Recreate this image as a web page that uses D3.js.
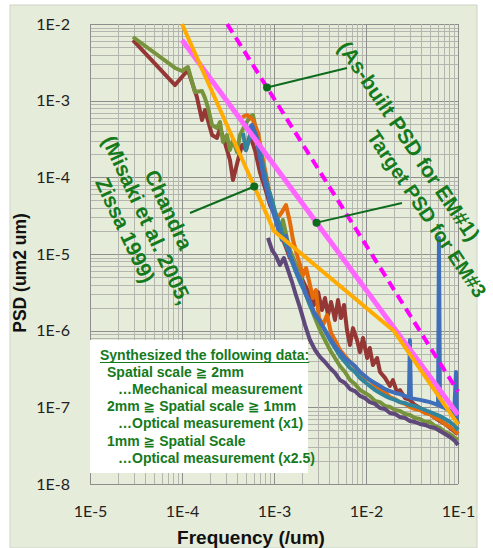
<!DOCTYPE html>
<html>
<head>
<meta charset="utf-8">
<script src="https://cdn.jsdelivr.net/npm/d3@7"></script>
<style>
  html, body { margin: 0; padding: 0; background: #ffffff; }
  svg { display: block; }
</style>
</head>
<body>
<svg id="chart" width="493" height="548"></svg>
<script>
// ---- axes -------------------------------------------------------------
const xTickValues = [1e-5, 1e-4, 1e-3, 1e-2, 1e-1];
const xTickLabels = ["1E-5", "1E-4", "1E-3", "1E-2", "1E-1"];
const yTickValues = [1e-2, 1e-3, 1e-4, 1e-5, 1e-6, 1e-7, 1e-8];
const yTickLabels = ["1E-2", "1E-3", "1E-4", "1E-5", "1E-6", "1E-7", "1E-8"];

// ---- measured PSD series: [frequency (/um), PSD (um2 um)] -------------
const seriesRed = [
  [2.93e-5,6.18e-3],[8.4e-5,1.60e-3],[1.16e-4,2.51e-3],[1.45e-4,1.12e-3],[1.65e-4,5.6e-4],
  [1.78e-4,7.55e-4],[2.12e-4,3.56e-4],[2.40e-4,3.26e-4],[2.59e-4,4.40e-4],[2.93e-4,2.81e-4],
  [3.32e-4,1.68e-4],[3.58e-4,9.23e-5],[4.06e-4,1.68e-4],[4.49e-4,2.64e-4],[4.96e-4,2.27e-4],
  [5.48e-4,3.56e-4],[6.21e-4,2.27e-4],[7.04e-4,1.16e-4],[7.98e-4,7.26e-5],[9.05e-4,4.36e-5],
  [1.03e-3,3.23e-5],[1.16e-3,1.94e-5],[1.32e-3,1.31e-5],[1.49e-3,8.87e-6],[1.69e-3,7.19e-6],
  [1.92e-3,5.32e-6],[2.17e-3,3.94e-6],[2.46e-3,2.92e-6],[2.72e-3,2.16e-6],[3.01e-3,3.19e-6],
  [3.32e-3,1.86e-6],[3.58e-3,2.67e-6],[3.86e-3,1.60e-6],[4.17e-3,2.37e-6],[4.6e-3,1.38e-6],
  [4.96e-3,2.51e-6],[5.35e-3,1.46e-6],[5.77e-3,2.16e-6],[6.21e-3,1.02e-6],[6.7e-3,6.50e-7],
  [7.22e-3,1.08e-6],[7.98e-3,7.55e-7],[8.6e-3,5.27e-7],[9.28e-3,8.02e-7],[1.03e-2,4.40e-7],
  [1.1e-2,5.94e-7],[1.19e-2,3.56e-7],[1.32e-2,4.40e-7],[1.42e-2,2.89e-7],[1.61e-2,2.42e-7],
  [1.82e-2,1.90e-7],[1.96e-2,2.27e-7],[2.17e-2,1.58e-7],[2.34e-2,1.68e-7],[2.66e-2,1.32e-7],
  [3.0e-2,1.25e-7],[3.41e-2,1.07e-7],[3.86e-2,9.8e-8],[4.38e-2,8.69e-8],[4.96e-2,8.18e-8],
  [5.62e-2,7.26e-8],[6.37e-2,6.64e-8],[7.23e-2,6.07e-8],[8.19e-2,5.38e-8],[9.28e-2,4.77e-8],
  [1.0e-1,4.49e-8]
];
const seriesOlive = [
  [2.93e-5,6.77e-3],[8.4e-5,2.67e-3],[1.0e-4,2.44e-3],[1.16e-4,2.75e-3],[1.38e-4,1.30e-3],
  [1.65e-4,1.34e-3],[1.78e-4,1.08e-3],[1.92e-4,8.02e-4],[2.12e-4,4.82e-4],[2.40e-4,4.40e-4],
  [2.59e-4,5.27e-4],[2.79e-4,2.89e-4],[3.08e-4,3.56e-4],[3.32e-4,2.27e-4],[3.58e-4,3.07e-4],
  [3.96e-4,2.14e-4],[4.27e-4,3.56e-4],[4.84e-4,4.82e-4],[5.48e-4,6.12e-4],[5.91e-4,6.50e-4],
  [6.53e-4,3.56e-4],[7.04e-4,2.27e-4],[7.59e-4,1.32e-4],[8.39e-4,8.7e-5],[9.05e-4,5.89e-5],
  [9.75e-4,4.36e-5],[1.05e-3,2.95e-5],[1.16e-3,2.06e-5],[1.25e-3,2.78e-5],[1.38e-3,1.62e-5],
  [1.49e-3,1.13e-5],[1.69e-3,7.87e-6],[1.92e-3,5.32e-6],[2.17e-3,3.19e-6],[2.46e-3,2.16e-6],
  [2.79e-3,1.46e-6],[3.16e-3,1.02e-6],[3.58e-3,7.55e-7],[4.06e-3,5.6e-7],[4.6e-3,4.40e-7],
  [5.21e-3,3.46e-7],[5.91e-3,2.89e-7],[6.7e-3,2.27e-7],[7.59e-3,2.01e-7],[8.6e-3,1.68e-7],
  [9.75e-3,1.54e-7],[1.1e-2,1.41e-7],[1.25e-2,1.21e-7],[1.42e-2,1.17e-7],[1.61e-2,1.04e-7],
  [1.82e-2,1.01e-7],[2.07e-2,9.23e-8],[2.34e-2,8.96e-8],[2.66e-2,8.18e-8],[3.0e-2,7.94e-8],
  [3.41e-2,7.26e-8],[3.86e-2,7.05e-8],[4.38e-2,6.44e-8],[4.96e-2,6.44e-8],[5.62e-2,5.71e-8],
  [6.37e-2,5.38e-8],[7.23e-2,4.77e-8],[8.19e-2,4.49e-8],[9.28e-2,3.98e-8],[1.0e-1,3.75e-8]
];
const seriesPurple = [
  [8.60e-4,1.62e-5],[9.51e-4,1.13e-5],[1.05e-3,9.42e-6],[1.16e-3,7.19e-6],[1.28e-3,8.87e-6],
  [1.42e-3,6.18e-6],[1.57e-3,4.31e-6],[1.73e-3,2.92e-6],[1.92e-3,1.98e-6],[2.17e-3,1.19e-6],
  [2.46e-3,7.55e-7],[2.79e-3,5.6e-7],[3.16e-3,4.54e-7],[3.58e-3,3.90e-7],[4.06e-3,3.26e-7],
  [4.6e-3,2.81e-7],[5.21e-3,2.27e-7],[5.91e-3,2.08e-7],[6.7e-3,1.73e-7],[7.59e-3,1.63e-7],
  [8.6e-3,1.41e-7],[9.75e-3,1.32e-7],[1.1e-2,1.17e-7],[1.25e-2,1.11e-7],[1.42e-2,9.8e-8],
  [1.61e-2,9.5e-8],[1.82e-2,8.43e-8],[2.07e-2,8.18e-8],[2.34e-2,7.47e-8],[2.66e-2,7.26e-8],
  [3.0e-2,6.64e-8],[3.41e-2,6.44e-8],[3.86e-2,6.07e-8],[4.38e-2,5.89e-8],[4.96e-2,5.54e-8],
  [5.62e-2,5.38e-8],[6.37e-2,4.91e-8],[7.23e-2,4.49e-8],[8.19e-2,4.10e-8],[9.28e-2,3.64e-8],
  [1.0e-1,3.23e-8]
];
const seriesOrange = [
  [4.49e-4,6.12e-4],[5.09e-4,6.50e-4],[5.91e-4,5.60e-4],[6.70e-4,3.79e-4],[7.59e-4,1.68e-4],
  [8.39e-4,9.23e-5],[9.05e-4,5.54e-5],[1.0e-3,3.75e-5],[1.10e-3,2.95e-5],[1.22e-3,3.53e-5],
  [1.35e-3,4.36e-5],[1.49e-3,2.61e-5],[1.61e-3,1.52e-5],[1.82e-3,8.87e-6],[2.07e-3,5.32e-6],
  [2.23e-3,6.57e-6],[2.46e-3,3.94e-6],[2.65e-3,2.67e-6],[2.86e-3,3.39e-6],[3.08e-3,1.46e-6],
  [3.41e-3,1.19e-6],[3.77e-3,1.60e-6],[4.17e-3,9.33e-7],[4.6e-3,7.55e-7],[5.21e-3,5.6e-7],
  [5.91e-3,4.68e-7],[6.7e-3,3.90e-7],[7.59e-3,3.36e-7],[8.6e-3,2.89e-7],[9.75e-3,2.42e-7],
  [1.1e-2,2.27e-7],[1.25e-2,1.90e-7],[1.42e-2,1.73e-7],[1.61e-2,1.58e-7],[1.82e-2,1.36e-7],
  [2.07e-2,1.28e-7],[2.34e-2,1.17e-7],[2.66e-2,1.11e-7],[3.0e-2,1.01e-7],[3.41e-2,9.5e-8],
  [3.86e-2,9.23e-8],[4.38e-2,8.43e-8],[4.96e-2,8.18e-8],[5.62e-2,7.26e-8],[6.37e-2,6.84e-8],
  [7.23e-2,6.07e-8],[8.19e-2,5.54e-8],[9.28e-2,4.91e-8],[1.0e-1,4.49e-8]
];
const seriesTeal = [
  [4.60e-4,3.79e-4],[4.96e-4,2.27e-4],[5.35e-4,3.07e-4],[5.77e-4,4.40e-4],[6.37e-4,3.56e-4],
  [7.04e-4,2.27e-4],[7.78e-4,1.25e-4],[8.60e-4,7.26e-5],[9.51e-4,5.06e-5],[1.05e-3,3.23e-5],
  [1.16e-3,2.39e-5],[1.28e-3,1.52e-5],[1.42e-3,1.13e-5],[1.57e-3,7.87e-6],[1.73e-3,5.82e-6],
  [1.92e-3,4.31e-6],[2.17e-3,3.19e-6],[2.46e-3,2.16e-6],[2.79e-3,1.60e-6],[3.16e-3,1.30e-6],
  [3.58e-3,1.02e-6],[4.06e-3,7.55e-7],[4.6e-3,5.94e-7],[5.21e-3,4.68e-7],[5.91e-3,3.90e-7],
  [6.7e-3,3.26e-7],[7.59e-3,2.89e-7],[8.6e-3,2.42e-7],[9.75e-3,2.14e-7],[1.1e-2,1.90e-7],
  [1.25e-2,1.68e-7],[1.42e-2,1.54e-7],[1.61e-2,1.41e-7],[1.82e-2,1.32e-7],[2.07e-2,1.25e-7],
  [2.34e-2,1.17e-7],[2.66e-2,1.14e-7],[3.0e-2,1.07e-7],[3.41e-2,1.04e-7],[3.86e-2,9.8e-8],
  [4.38e-2,9.23e-8],[4.96e-2,8.69e-8],[5.62e-2,8.18e-8],[6.37e-2,7.70e-8],[7.23e-2,7.05e-8],
  [8.19e-2,6.44e-8],[9.28e-2,5.71e-8],[1.0e-1,5.06e-8]
];
const seriesBlue = [
  [4.72e-4,5.27e-4],[5.22e-4,4.14e-4],[5.77e-4,4.82e-4],[6.37e-4,3.56e-4],[7.04e-4,1.79e-4],
  [7.78e-4,9.8e-5],[8.39e-4,6.84e-5],[9.05e-4,4.77e-5],[1.0e-3,3.23e-5],[1.10e-3,2.18e-5],
  [1.22e-3,1.52e-5],[1.35e-3,1.72e-5],[1.49e-3,9.7e-6],[1.65e-3,7.19e-6],[1.82e-3,5.32e-6],
  [2.01e-3,4.19e-6],[2.23e-3,2.92e-6],[2.46e-3,2.37e-6],[2.72e-3,1.75e-6],[3.01e-3,1.46e-6],
  [3.32e-3,1.19e-6],[3.67e-3,9.6e-7],[4.06e-3,8.02e-7],[4.6e-3,6.31e-7],[5.21e-3,5.27e-7],
  [5.91e-3,4.40e-7],[6.7e-3,3.90e-7],[7.59e-3,3.46e-7],[8.6e-3,2.89e-7],[9.75e-3,2.56e-7],
  [1.1e-2,2.27e-7],[1.25e-2,2.08e-7],[1.42e-2,1.90e-7],[1.61e-2,1.73e-7],[1.82e-2,1.63e-7],
  [2.07e-2,1.54e-7],[2.34e-2,1.49e-7],[2.66e-2,1.41e-7],[2.93e-2,1.36e-7],[3.0e-2,7.55e-7],
  [3.08e-2,1.32e-7],[3.49e-2,1.28e-7],[3.86e-2,1.25e-7],[4.38e-2,1.21e-7],[4.96e-2,1.17e-7],
  [5.62e-2,1.11e-7],[6.07e-2,1.07e-7],[6.21e-2,1.62e-5],[6.37e-2,1.04e-7],[7.23e-2,9.8e-8],
  [8.19e-2,8.96e-8],[9.06e-2,7.94e-8],[9.51e-2,2.89e-7],[9.75e-2,6.84e-8],[1.0e-1,6.07e-8]
];

// ---- reference PSD lines ---------------------------------------------
const targetEM3 = [[1e-4, 1e-2], [1e-3, 2e-5], [2e-2, 1e-6], [1e-1, 6e-8]];
const chandraPSD = [[1e-4, 6.2e-3], [1e-1, 8e-8]];
const asBuiltEM1 = [[3.1e-4, 1e-2], [1e-1, 1.6e-7]];

const measured = [
  { data: seriesRed,    color: "#953735" },
  { data: seriesOlive,  color: "#77933c" },
  { data: seriesPurple, color: "#5f497a" },
  { data: seriesOrange, color: "#e46c0a" },
  { data: seriesTeal,   color: "#31859c" },
  { data: seriesBlue,   color: "#3f6fba" }
];

const legendLines = [
  { text: "Synthesized the following data:", indent: 0, underline: true },
  { text: "Spatial scale \u2267 2mm", indent: 7 },
  { text: "\u2026Mechanical measurement", indent: 18 },
  { text: "2mm \u2267 Spatial scale \u2267 1mm", indent: 7 },
  { text: "\u2026Optical measurement (x1)", indent: 18 },
  { text: "1mm \u2267 Spatial Scale", indent: 7 },
  { text: "\u2026Optical measurement (x2.5)", indent: 18 }
];

// ---- layout ----------------------------------------------------------
const plot = { left: 90, right: 458, top: 24, bottom: 484 };
const green = "#157a1c";

const svg = d3.select("#chart");
const x = d3.scaleLog().domain([1e-5, 1e-1]).range([plot.left, plot.right]);
const y = d3.scaleLog().domain([1e-8, 1e-2]).range([plot.bottom, plot.top]);

// chart panel
svg.append("rect").attr("x", 10).attr("y", 5).attr("width", 467).attr("height", 543)
  .attr("fill", "#e6ecda").attr("stroke", "#cfd4c8").attr("stroke-width", 1);

// grid (log minor + major)
const gridVals = [];
for (let d = -8; d <= -2; d++) for (let m = 1; m <= 9; m++) gridVals.push({ v: m * Math.pow(10, d), major: m === 1 });
const grid = svg.append("g");
gridVals.filter(g => g.v >= 1e-8 && g.v <= 1e-2).forEach(g => {
  grid.append("line").attr("x1", plot.left).attr("x2", plot.right)
    .attr("y1", Math.round(y(g.v)) + 0.5).attr("y2", Math.round(y(g.v)) + 0.5)
    .attr("stroke", g.major ? "#8e8e8e" : "#b3b5ae").attr("stroke-width", 1);
});
gridVals.filter(g => g.v >= 1e-5 && g.v <= 1e-1 + 1e-12).forEach(g => {
  grid.append("line").attr("y1", plot.top).attr("y2", plot.bottom)
    .attr("x1", Math.round(x(g.v)) + 0.5).attr("x2", Math.round(x(g.v)) + 0.5)
    .attr("stroke", g.major ? "#8e8e8e" : "#b3b5ae").attr("stroke-width", 1);
});
grid.append("line").attr("y1", plot.top).attr("y2", plot.bottom)
  .attr("x1", Math.round(x(1e-1)) + 0.5).attr("x2", Math.round(x(1e-1)) + 0.5)
  .attr("stroke", "#8e8e8e");

// axes (labels only)
const xAxis = svg.append("g").attr("transform", `translate(0,${plot.bottom})`)
  .call(d3.axisBottom(x).tickValues(xTickValues).tickFormat((d, i) => xTickLabels[i]).tickSize(0).tickPadding(22));
const yAxis = svg.append("g").attr("transform", `translate(${plot.left},0)`)
  .call(d3.axisLeft(y).tickValues(yTickValues).tickFormat((d, i) => yTickLabels[i]).tickSize(0).tickPadding(20));
[xAxis, yAxis].forEach(a => {
  a.select(".domain").remove();
  a.selectAll("text").attr("font-family", "Lato, 'Open Sans', sans-serif")
    .attr("font-size", 16).attr("fill", "#222");
});

svg.append("text").attr("x", 251).attr("y", 544)
  .attr("text-anchor", "middle").attr("font-family", "'Liberation Sans', Arial, sans-serif")
  .attr("font-weight", "bold").attr("font-size", 19).attr("fill", "#111")
  .text("Frequency (/um)");
svg.append("text").attr("transform", "translate(26,273) rotate(-90)")
  .attr("text-anchor", "middle").attr("font-family", "'Liberation Sans', Arial, sans-serif")
  .attr("font-weight", "bold").attr("font-size", 17.5).attr("fill", "#111")
  .text("PSD (um2 um)");

// legend text box
const lg = svg.append("g");
lg.append("rect").attr("x", 90).attr("y", 340).attr("width", 218).attr("height", 133).attr("fill", "#ffffff");
legendLines.forEach((l, i) => {
  const t = lg.append("text").attr("x", 100 + l.indent).attr("y", 360 + i * 17.1)
    .attr("font-family", "'Liberation Sans', Arial, 'DejaVu Sans', sans-serif")
    .attr("font-weight", "bold").attr("font-size", 14).attr("fill", green).text(l.text);
  if (l.underline) {
    const w = t.node().getComputedTextLength();
    lg.append("line").attr("x1", 100).attr("x2", 100 + w)
      .attr("y1", 362.5).attr("y2", 362.5).attr("stroke", green).attr("stroke-width", 1.2);
  }
});

// data
svg.append("clipPath").attr("id", "plotClip").append("rect")
  .attr("x", plot.left).attr("y", plot.top - 4).attr("width", plot.right - plot.left + 3).attr("height", plot.bottom - plot.top + 4);
const dataG = svg.append("g").attr("clip-path", "url(#plotClip)");
const line = d3.line().x(d => x(d[0])).y(d => y(d[1]));

measured.forEach(s => {
  dataG.append("path").datum(s.data).attr("d", line)
    .attr("fill", "none").attr("stroke", s.color).attr("stroke-width", 4)
    .attr("stroke-linejoin", "round");
});

dataG.append("path").datum(chandraPSD).attr("d", line)
  .attr("fill", "none").attr("stroke", "#ff66ff").attr("stroke-width", 5);
dataG.append("path").datum(asBuiltEM1).attr("d", line)
  .attr("fill", "none").attr("stroke", "#ff00ff").attr("stroke-width", 4)
  .attr("stroke-dasharray", "10,6");
dataG.append("path").datum(targetEM3).attr("d", line)
  .attr("fill", "none").attr("stroke", "#ffab00").attr("stroke-width", 4)
  .attr("stroke-linejoin", "round");

// annotations with leaders to the lines they name
function psdOn(series, f) {
  for (let i = 0; i < series.length - 1; i++) {
    const [f0, p0] = series[i], [f1, p1] = series[i + 1];
    if (f >= f0 && f <= f1) {
      const t = (Math.log(f) - Math.log(f0)) / (Math.log(f1) - Math.log(f0));
      return Math.exp(Math.log(p0) + t * (Math.log(p1) - Math.log(p0)));
    }
  }
  return series[series.length - 1][1];
}

const annotations = [
  { lines: ["(As-built PSD for EM#1)"], cx: 409, cy: 141, angle: 56, size: 21, from: [347, 68], series: asBuiltEM1, f: 8.4e-4 },
  { lines: ["Target PSD for EM#3"], cx: 427, cy: 214, angle: 56, size: 20, from: [402, 203], series: chandraPSD, f: 2.9e-3 },
  { lines: ["Chandra", "(Misaki et al. 2005,", "Zissa 1999)"], cx: 147, cy: 220, angle: 65, size: 21, from: [190, 213], series: targetEM3, f: 6.1e-4 }
];
const annG = svg.append("g");
annotations.forEach(a => {
  const px = x(a.f), py = y(psdOn(a.series, a.f));
  annG.append("line").attr("x1", a.from[0]).attr("y1", a.from[1]).attr("x2", px).attr("y2", py)
    .attr("stroke", "#0d6b1d").attr("stroke-width", 2);
  annG.append("circle").attr("cx", px).attr("cy", py).attr("r", 4).attr("fill", "#0d6b1d");
  const g = annG.append("g").attr("transform", `translate(${a.cx},${a.cy}) rotate(${a.angle})`);
  const n = a.lines.length;
  a.lines.forEach((s, i) => {
    g.append("text").attr("x", 0).attr("y", (i - (n - 1) / 2) * 24).attr("dy", "0.35em")
      .attr("text-anchor", "middle").attr("font-family", "'Liberation Sans', Arial, sans-serif")
      .attr("font-weight", "bold").attr("font-size", a.size).attr("fill", green).text(s);
  });
});
</script>
</body>
</html>
